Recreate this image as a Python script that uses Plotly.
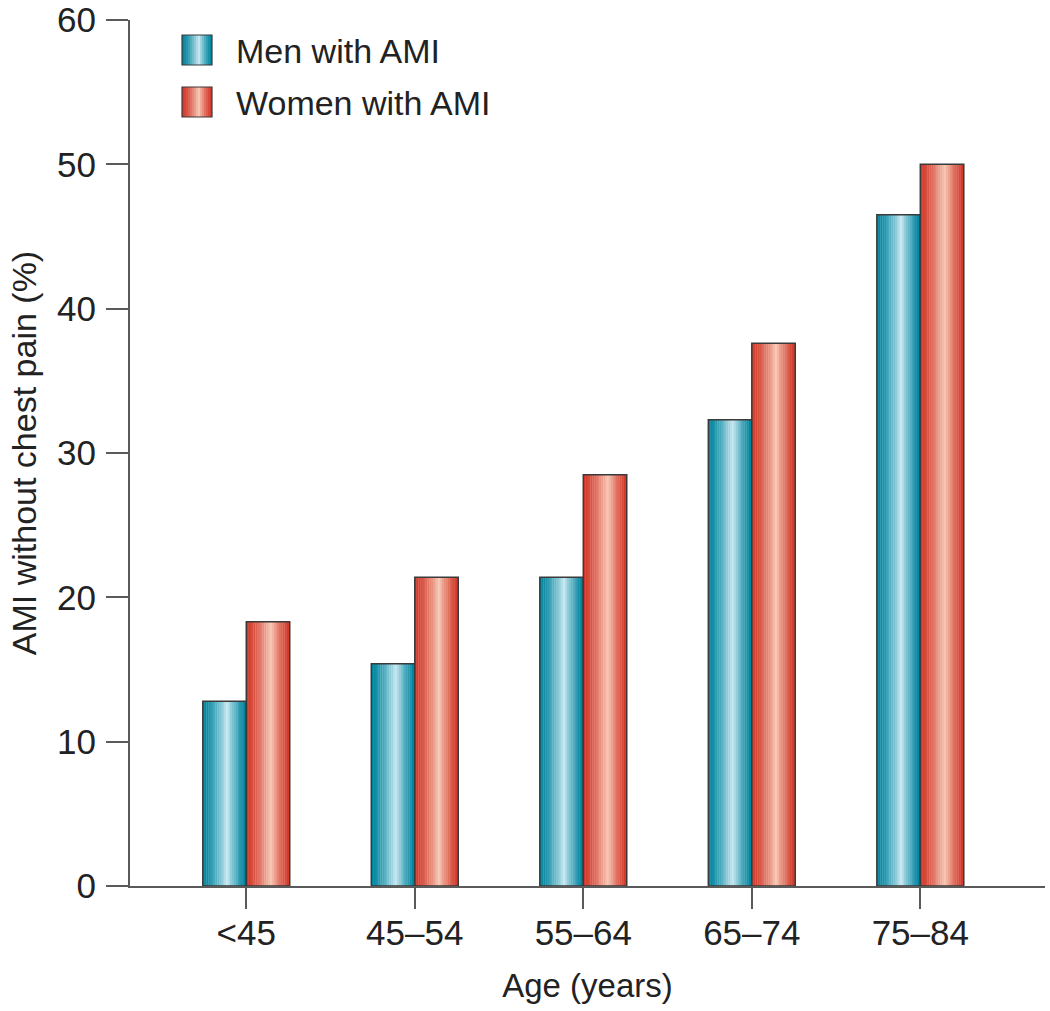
import plotly.graph_objects as go

# ---- data ----
categories = ["<45", "45–54", "55–64", "65–74", "75–84"]
men_values = [12.8, 15.4, 21.4, 32.3, 46.5]
women_values = [18.3, 21.4, 28.5, 37.6, 50.0]
series_names = ["Men with AMI", "Women with AMI"]
y_ticks = [0, 10, 20, 30, 40, 50, 60]

# ---- style ----
FONT = "Liberation Sans, Arial, sans-serif"
TXT = "#222222"
AX = "#5a5a5a"
OUTLINE = "#3a3a3a"
MEN_DARK, MEN_LIGHT = (0, 132, 158), (200, 232, 241)
WOM_DARK, WOM_LIGHT = (210, 56, 42), (247, 200, 180)
BAR_W = 0.258
N_STRIPS = 24
HIGHLIGHT = 0.56

FIG_W, FIG_H = 1050, 1011
L, R = 130, 1045
T, B = 20, 886


def shade(t):
    if t < HIGHLIGHT:
        d = (HIGHLIGHT - t) / HIGHLIGHT
    else:
        d = (t - HIGHLIGHT) / (1 - HIGHLIGHT)
    return (1 - d) ** 1.4


def mix(c1, c2, s):
    return "rgb(%d,%d,%d)" % tuple(round(a + (b - a) * s) for a, b in zip(c1, c2))


fig = go.Figure()


def add_series(values, base_offset, dark, light):
    step = BAR_W / N_STRIPS
    for k in range(N_STRIPS):
        t = (k + 0.5) / N_STRIPS
        w = step * 1.15 if k < N_STRIPS - 1 else step
        fig.add_trace(go.Bar(
            x=categories, y=values, offset=base_offset + k * step, width=w,
            marker=dict(color=mix(dark, light, shade(t)), line=dict(width=0)),
            showlegend=False, hoverinfo="skip"))
    fig.add_trace(go.Bar(
        x=categories, y=values, offset=base_offset, width=BAR_W,
        marker=dict(color="rgba(0,0,0,0)", line=dict(color=OUTLINE, width=1.5)),
        showlegend=False))


add_series(men_values, -BAR_W, MEN_DARK, MEN_LIGHT)
add_series(women_values, 0.0, WOM_DARK, WOM_LIGHT)


def px_x(x):
    return (x - L) / (R - L)


def px_y(y):
    return 1 - (y - T) / (B - T)


# ---- legend (gradient swatches + text) ----
shapes = []
annotations = []
legend_rows = [(35, MEN_DARK, MEN_LIGHT), (87, WOM_DARK, WOM_LIGHT)]
sw_x0, sw_size = 182, 30
for (top, dark, light), name in zip(legend_rows, series_names):
    n = 15
    for k in range(n):
        t = (k + 0.5) / n
        x0 = sw_x0 + k * sw_size / n
        x1 = sw_x0 + (k + 1) * sw_size / n + (0.6 if k < n - 1 else 0)
        shapes.append(dict(type="rect", xref="paper", yref="paper",
                           x0=px_x(x0), x1=px_x(x1), y0=px_y(top + sw_size), y1=px_y(top),
                           fillcolor=mix(dark, light, shade(t)), line=dict(width=0), layer="above"))
    shapes.append(dict(type="rect", xref="paper", yref="paper",
                       x0=px_x(sw_x0), x1=px_x(sw_x0 + sw_size), y0=px_y(top + sw_size), y1=px_y(top),
                       fillcolor="rgba(0,0,0,0)", line=dict(color=OUTLINE, width=1.2), layer="above"))
    annotations.append(dict(xref="paper", yref="paper", x=px_x(234), y=px_y(top + sw_size / 2 + 1),
                            xanchor="left", yanchor="middle", showarrow=False, text=name,
                            font=dict(family=FONT, size=34, color=TXT)))

fig.update_layout(
    width=FIG_W, height=FIG_H,
    margin=dict(l=L, r=FIG_W - R, t=T, b=FIG_H - B, autoexpand=False),
    paper_bgcolor="white", plot_bgcolor="white",
    barmode="overlay",
    showlegend=False,
    font=dict(family=FONT, size=33, color=TXT),
    shapes=shapes,
    annotations=annotations,
    xaxis=dict(
        type="category", range=[-0.69, 4.74],
        showline=True, linecolor=AX, linewidth=2,
        ticks="outside", ticklen=21, tickwidth=2, tickcolor=AX,
        tickfont=dict(family=FONT, size=35, color=TXT),
        ticklabelstandoff=-6,
        showgrid=False, zeroline=False,
        title=dict(text="Age (years)", font=dict(family=FONT, size=33, color=TXT), standoff=23),
        automargin=False,
    ),
    yaxis=dict(
        range=[0, 60], tickvals=y_ticks,
        showline=True, linecolor=AX, linewidth=2,
        ticks="outside", ticklen=22, tickwidth=2, tickcolor=AX,
        tickfont=dict(family=FONT, size=35, color=TXT),
        ticklabelstandoff=3, ticklabeloverflow="allow",
        showgrid=False, zeroline=False,
        title=dict(text="AMI without chest pain (%)", font=dict(family=FONT, size=34, color=TXT), standoff=10),
        automargin=False,
    ),
)

# remove the browser's default 8px body margin so the figure sits at the page origin
fig.write_html("out.html", config={"displayModeBar": False},
               post_script="document.body.style.margin='0';")
